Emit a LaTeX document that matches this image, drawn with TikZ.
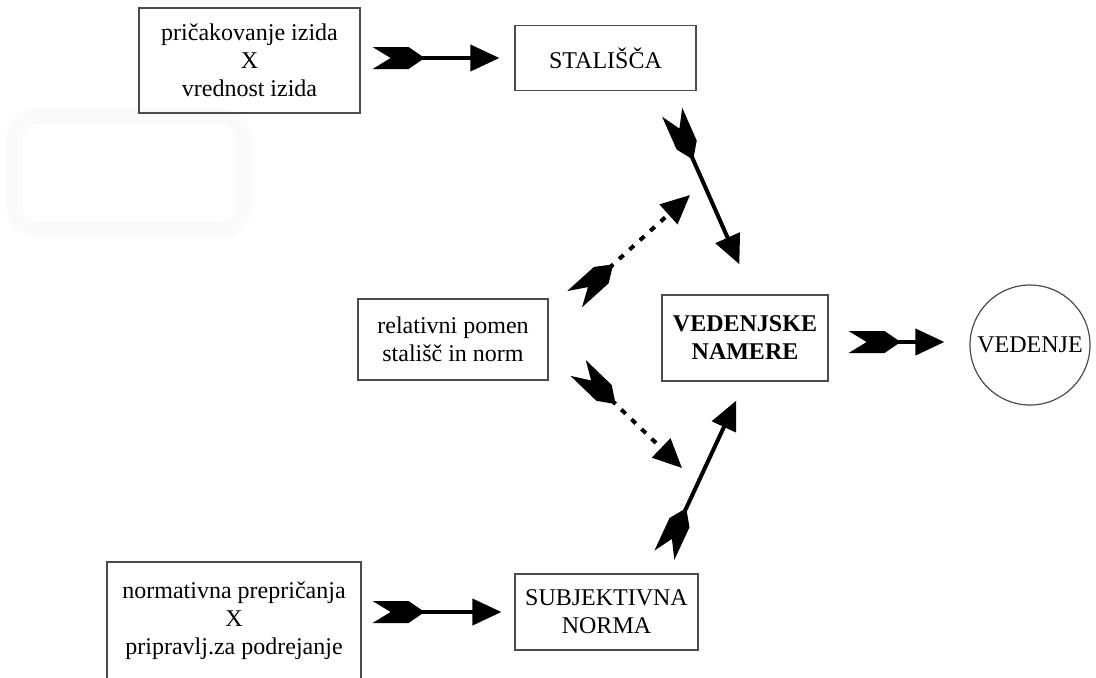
\documentclass[tikz,border=0pt]{standalone}
\usepackage{fontspec}
\setmainfont{Liberation Serif}
\usetikzlibrary{arrows.meta}

% feathered tail of the arrows
\pgfdeclarearrow{
  name = Fletch,
  setup code = {
    \pgfarrowssettipend{0pt}
    \pgfarrowssetbackend{-26pt}
    \pgfarrowssetlineend{-23pt}
  },
  drawing code = {
    \pgfpathmoveto{\pgfpoint{0pt}{5.5pt}}
    \pgfpathlineto{\pgfpoint{-9pt}{0pt}}
    \pgfpathlineto{\pgfpoint{0pt}{-5.5pt}}
    \pgfpathlineto{\pgfpoint{-18pt}{-5.5pt}}
    \pgfpathlineto{\pgfpoint{-26pt}{0pt}}
    \pgfpathlineto{\pgfpoint{-18pt}{5.5pt}}
    \pgfpathclose
    \pgfusepathqfill
  }
}

\begin{document}
\begin{tikzpicture}[x=0.5pt,y=-0.5pt,
    box/.style={draw=black!70, line width=0.6pt, inner sep=0pt, align=center,
      font=\fontsize{12}{14}\selectfont},
    flow/.style={line width=2pt, {Fletch}-{Triangle[length=14.5pt,width=13pt]}},
    moder/.style={flow, dash pattern=on 3pt off 4pt}]

    \clip (0,0) rectangle (1096,677);

    % faint frame left over in the picture
    \draw[black!2, line width=8pt, rounded corners=12pt] (14,116) rectangle (244,229);

    % Boxes
    \node[box, minimum width=110.5pt, minimum height=52.5pt] (pric) at (249.5,60.5)
        {pričakovanje izida\\X\\vrednost izida};
    \node[box, minimum width=90.5pt, minimum height=32.5pt] (stal) at (605.5,58) {STALIŠČA};
    \node[box, minimum width=95pt, minimum height=40.5pt] (rel) at (453,339.5)
        {relativni pomen\\stališč in norm};
    \node[box, font=\fontsize{12}{14}\selectfont\bfseries, minimum width=83pt, minimum height=43pt]
        (nam) at (745,338) {VEDENJSKE\\NAMERE};
    \node[box, circle, minimum size=60pt] (ved) at (1030,345) {VEDENJE};
    \node[box, minimum width=127pt, minimum height=59pt] (norm) at (234,621)
        {normativna prepričanja\\X\\pripravlj.za podrejanje};
    \node[box, minimum width=91.5pt, minimum height=38pt] (subj) at (606.5,612)
        {SUBJEKTIVNA\\NORMA};

    % free ends of the dashed arrows
    \coordinate (mod1) at (690,195);
    \coordinate (mod2) at (682,468);

    % Arrows
    \draw[flow, shorten <=6pt, shorten >=7.5pt] (pric.east |- stal.west) -- (stal.west);
    \draw[flow, shorten <=11.5pt, shorten >=16.5pt] (stal.-30) -- (nam.80);
    \draw[flow, shorten <=10pt, shorten >=10.5pt] (subj.38) -- (nam.south);
    \draw[flow, shorten <=5.5pt, shorten >=6.5pt] (norm.east |- subj.west) -- (subj.west);
    \draw[flow, shorten <=10pt, shorten >=12.5pt] ([yshift=-2pt]nam.east) -- ([yshift=-2pt]nam.east -| ved.west);
    \draw[moder, shorten <=17.5pt] (rel.10) -- (mod1);
    \draw[moder, shorten <=20.5pt] (rel.east) -- (mod2);
\end{tikzpicture}
\end{document}
